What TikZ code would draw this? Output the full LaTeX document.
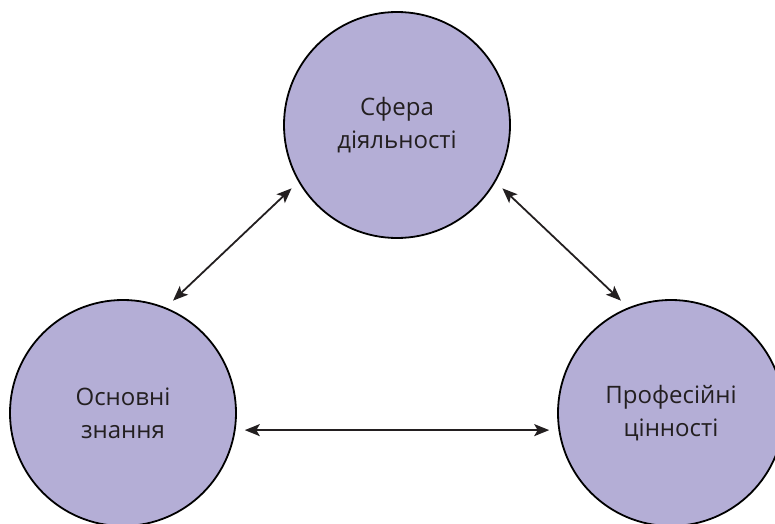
\documentclass[tikz,border=0pt]{standalone}
\usepackage{fontspec}
\setmainfont{Open Sans}
\usetikzlibrary{arrows.meta}
\definecolor{circfill}{RGB}{180,174,214}
\definecolor{txt}{RGB}{35,31,32}
\tikzset{
  bubble/.style={circle, draw=black, line width=1.8pt, fill=circfill,
    minimum size=226pt, inner sep=0pt, outer sep=10pt, align=center,
    text=txt, font=\fontsize{24}{33}\selectfont},
  link/.style={line width=1.8pt, draw=txt,
    {Stealth[length=15pt,width=12pt,inset=3.5pt]}-{Stealth[length=15pt,width=12pt,inset=3.5pt]}}
}
\begin{document}
\begin{tikzpicture}[x=1pt,y=1pt]
\useasboundingbox (0,0) rectangle (775,523);
\node[bubble] (sfera) at (397,398) {Сфера\\діяльності};
\node[bubble] (osn) at (123,110) {Основні\\знання};
\node[bubble] (prof) at (671,110) {Професійні\\цінності};
\draw[link] (osn.66) -- (sfera.211);
\draw[link] (sfera.329) -- (prof.114);
\draw[link] (osn.-8.4) -- (prof.188.5);
\end{tikzpicture}
\end{document}
